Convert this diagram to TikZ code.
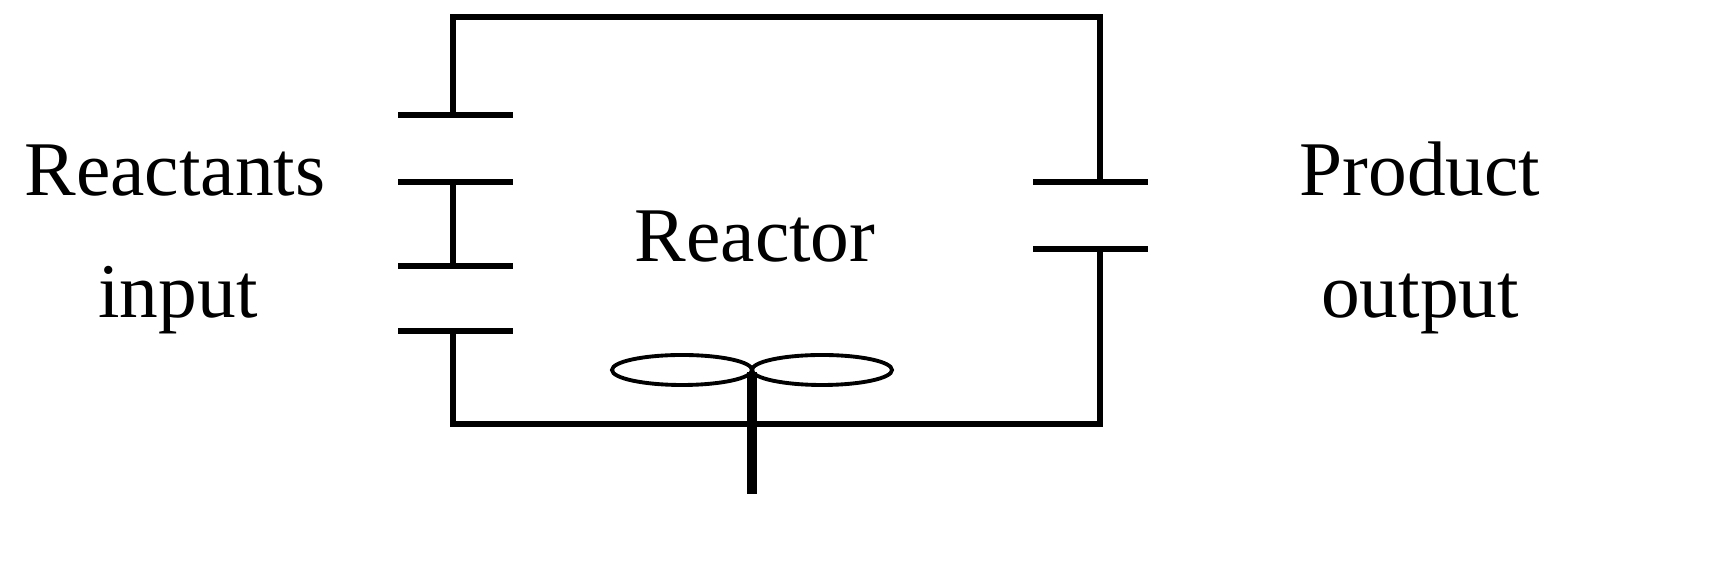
\documentclass[tikz,border=0pt]{standalone}
\usepackage{fontspec}
\setmainfont{Liberation Serif}
\begin{document}
\begin{tikzpicture}[x=0.01cm,y=-0.01cm,
  wall/.style={line width=1.5pt},
  lbl/.style={font=\fontsize{22}{26}\selectfont, inner sep=0pt, anchor=base}]
\useasboundingbox (0,0) rectangle (1728,565);
% stubs
\coordinate (a1) at (398,115); \coordinate (a2) at (513,115);
\coordinate (b1) at (398,182); \coordinate (b2) at (513,182);
\coordinate (c1) at (398,266); \coordinate (c2) at (513,266);
\coordinate (d1) at (398,331); \coordinate (d2) at (513,331);
\coordinate (e1) at (1033,182); \coordinate (e2) at (1148,182);
\coordinate (f1) at (1033,249); \coordinate (f2) at (1148,249);
\foreach \p in {a,b,c,d,e,f} \draw[wall] (\p1) -- (\p2);
\draw[wall] (453,115) -- (453,17) -- (1100,17) -- (1100,182);
\draw[wall] (453,182) -- (453,266);
\draw[wall] (453,331) -- (453,424) -- (1100,424) -- (1100,249);
% stirrer
\draw[line width=1.1pt] (682,370) ellipse [x radius=70, y radius=15];
\draw[line width=1.1pt] (822,370) ellipse [x radius=70, y radius=15];
\draw[line width=2.6pt] (752,372) -- (752,494);
% labels
\node[lbl] (r1) at (175,196) {Reactants};
\node[lbl] (r2) at (178,318) {input};
\node[lbl] (rc) at (755,262) {Reactor};
\node[lbl] (p1) at (1420,196) {Product};
\node[lbl] (p2) at (1420,318) {output};
\end{tikzpicture}
\end{document}
